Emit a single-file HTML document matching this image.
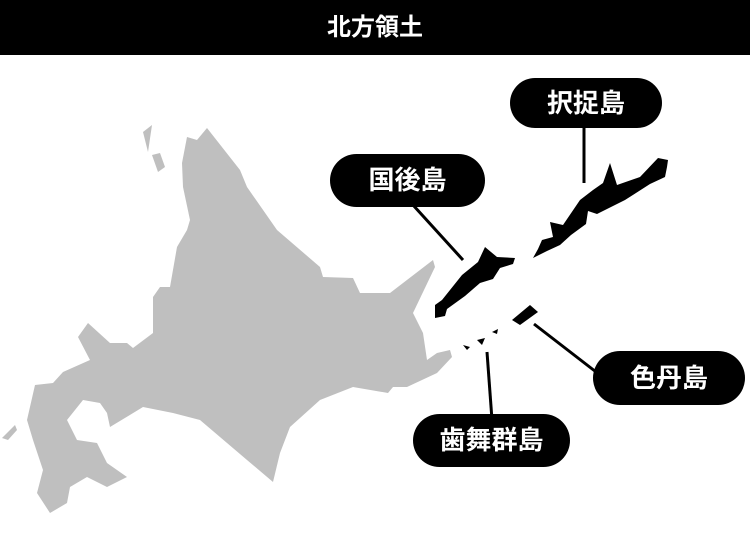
<!DOCTYPE html>
<html><head><meta charset="utf-8"><style>
body{margin:0;width:750px;height:541px;background:#fff;overflow:hidden;position:relative;font-family:"Liberation Sans","Noto Sans CJK JP",sans-serif}
.hd{position:absolute;left:0;top:0;width:750px;height:55px;background:#000;color:#fff;font-size:24px;font-weight:bold;text-align:center;line-height:55px}
.b{position:absolute;background:#000;color:#fff;font-size:26px;font-weight:bold;text-align:center;border-radius:27px}
</style></head><body>
<div class="hd">北方領土</div>
<svg width="750" height="541" style="position:absolute;left:0;top:0">
<polygon fill="#bfbfbf" points="207,128 240,170 247,187 277,230 320,267 323,277 353,278 360,293 390,293 433,260 435,267 413,313 423,333 427,360 437,353 450,350 452,357 437,373 407,387 393,387 388,393 353,387 320,400 290,427 280,453 273,482 247,460 200,420 173,413 143,407 110,427 107,413 100,403 83,400 67,420 77,440 97,443 107,463 127,477 107,487 87,477 70,487 67,503 50,513 37,493 43,470 33,440 27,420 35,385 53,383 63,372 90,360 78,337 88,323 110,343 127,343 133,348 153,333 153,297 160,287 170,287 177,247 187,230 190,220 183,187 182,163 187,137 197,140"/>
<polygon fill="#bfbfbf" points="143,132 152,125 148,152"/>
<polygon fill="#bfbfbf" points="152,155 160,153 165,167 158,172"/>
<polygon fill="#bfbfbf" points="2,438 15,425 17,430 8,440"/>
<polygon fill="#000" points="435,305 442,300 462,275 478,262 485,247 497,257 515,258 513,264 500,268 493,279 480,283 465,296 447,309 445,316 435,318"/>
<polygon fill="#000" points="533,258 538,249 542,240 553,237 550,222 563,225 580,200 593,190 603,183 610,163 617,185 640,177 658,158 668,160 667,167 665,177 650,184 625,200 597,214 588,211 586,224 571,235 560,245 547,251"/>
<polygon fill="#000" points="512,320 530,305 538,312 520,325"/>
<polygon fill="#000" points="492,332 498,329 497,334"/>
<polygon fill="#000" points="477,340 485,338 482,345"/>
<polygon fill="#000" points="463,345 470,347 467,350"/>
<g stroke="#000" stroke-width="3">
<line x1="584" y1="125" x2="584" y2="183"/>
<line x1="413" y1="205" x2="463" y2="260"/>
<line x1="534" y1="324" x2="600" y2="375"/>
<line x1="487" y1="352" x2="492" y2="420"/>
</g>
</svg>
<div class="b" style="left:510px;top:78px;width:152px;height:50px;line-height:50px">択捉島</div>
<div class="b" style="left:330px;top:154px;width:155px;height:53px;line-height:53px">国後島</div>
<div class="b" style="left:593px;top:351px;width:152px;height:54px;line-height:54px">色丹島</div>
<div class="b" style="left:413px;top:414px;width:157px;height:53px;line-height:53px">歯舞群島</div>
</body></html>
